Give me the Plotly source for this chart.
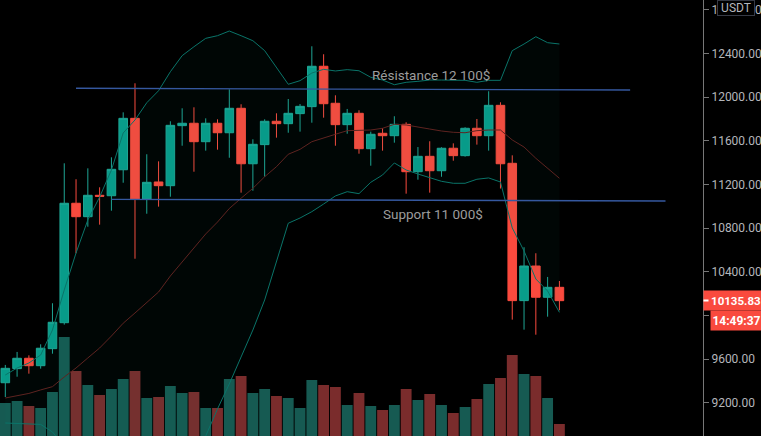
import plotly.graph_objects as go

# candles, oldest first (BTC/USDT, prices)
opens = [9384, 9513, 9608, 9540, 9696, 9934, 11028, 10905, 11101, 11097, 11335, 11806,
         11067, 11223, 11189, 11739, 11761, 11592, 11761, 11674, 11898, 11390, 11565, 11779,
         11757, 11849, 11913, 12283, 11944, 11748, 11852, 11528, 11669, 11647, 11751, 11317,
         11458, 11326, 11532, 11464, 11715, 11647, 11925, 11394, 10136, 10453, 10167, 10258]
highs = [9547, 9666, 9635, 9736, 10112, 11394, 11248, 11348, 11174, 11449, 11861, 12127,
         11477, 11412, 11779, 11898, 11907, 11806, 11797, 12072, 11935, 11614, 11797, 11852,
         11983, 11937, 12466, 12393, 12017, 11892, 11880, 11684, 11715, 11825, 11770, 11543,
         11596, 11541, 11577, 11724, 11800, 12054, 11953, 11467, 10625, 10570, 10353, 10316]
lows = [9253, 9439, 9467, 9513, 9650, 9916, 10570, 10813, 10832, 10960, 11216, 10520,
        10932, 10997, 11088, 11555, 11317, 11510, 11519, 11445, 11125, 11143, 11271, 11629,
        11674, 11684, 11766, 11812, 11555, 11665, 11482, 11372, 11510, 11583, 11116, 11244,
        11125, 11271, 11418, 11455, 11565, 11510, 11163, 9962, 9870, 9824, 9989, 10048]
closes = [9516, 9608, 9540, 9700, 9938, 11028, 10905, 11101, 11092, 11339, 11806, 11067,
          11220, 11189, 11742, 11761, 11592, 11761, 11674, 11898, 11390, 11568, 11779, 11757,
          11852, 11916, 12283, 11940, 11748, 11852, 11528, 11660, 11647, 11751, 11317, 11458,
          11326, 11532, 11464, 11715, 11647, 11925, 11390, 10136, 10453, 10167, 10258, 10135.83]

# bollinger bands
bb_upper = [9455, 9519, 9565, 9638, 9867, 10234, 10573, 10875, 11085, 11333, 11672, 11791,
            11949, 12059, 12233, 12380, 12462, 12539, 12563, 12606, 12563, 12517, 12426, 12276,
            12118, 12151, 12221, 12255, 12240, 12252, 12242, 12182, 12157, 12114, 12136, 12145,
            12157, 12157, 12154, 12154, 12136, 12154, 12154, 12426, 12487, 12554, 12499, 12487]
bb_basis = [9244, 9263, 9286, 9318, 9348, 9437, 9519, 9611, 9702, 9812, 9929, 10023,
            10115, 10215, 10362, 10490, 10618, 10747, 10856, 10980, 11074, 11165, 11271, 11363,
            11477, 11522, 11592, 11629, 11660, 11693, 11693, 11699, 11715, 11751, 11745, 11724,
            11708, 11690, 11678, 11674, 11693, 11699, 11699, 11608, 11543, 11440, 11348, 11257]
bb_lower = [9015, 9011, 9006, 9002, 8933, 8800, 8700, 8620, 8560, 8520, 8500, 8490,
            8500, 8530, 8590, 8660, 8760, 8896, 9144, 9373, 9620, 9867, 10142, 10490,
            10845, 10893, 10951, 11021, 11095, 11134, 11116, 11220, 11287, 11397, 11333, 11296,
            11266, 11229, 11211, 11211, 11248, 11260, 11223, 10802, 10591, 10334, 10224, 10029]

# volume has no scale on the picture, only relative heights
volumes = [3300, 3500, 3000, 2800, 4400, 9900, 6500, 5100, 4100, 4700, 5700, 6500,
           3800, 3900, 5000, 4300, 4400, 2800, 2800, 5700, 6000, 4300, 4700, 4000,
           3800, 2800, 5600, 5100, 4900, 3100, 4300, 3000, 2600, 3100, 4700, 3600,
           4200, 3100, 2300, 2900, 3700, 5200, 5800, 8100, 6200, 6000, 3800, 1200]

# hand drawn levels: index and price of both ends
resistance_x = [6, 53]
resistance_y = [12081, 12066]
support_x = [9, 56]
support_y = [11064, 11049]

price_ticks = [9200, 9600, 10000, 10400, 10800, 11200, 11600, 12000, 12400, 12800]
time_left = "14:49:37"
time_label_price = 9954

GREEN = "#089c8a"
RED = "#f94a3e"
VOL_GREEN = "#165a52"
VOL_RED = "#7a2c2c"
BAND = "#0a7469"
BASIS = "#5e2320"
LEVEL = "#35589f"
TEXT = "#b4b6bb"
FONT = "Roboto, Arial, sans-serif"

idx = list(range(len(closes)))
vol_colors = [VOL_GREEN if c >= o else VOL_RED for o, c in zip(opens, closes)]

fig = go.Figure()

fig.add_trace(go.Bar(x=idx, y=volumes, marker=dict(color=vol_colors, line_width=0), width=0.92,
                     yaxis="y", showlegend=False))

fig.add_trace(go.Scatter(x=idx, y=bb_upper, mode="lines", line=dict(color=BAND, width=1),
                         yaxis="y2", showlegend=False))
fig.add_trace(go.Scatter(x=idx, y=bb_lower, mode="lines", line=dict(color=BAND, width=1),
                         fill="tonexty", fillcolor="rgba(0,150,136,0.04)",
                         yaxis="y2", showlegend=False))
fig.add_trace(go.Scatter(x=idx, y=bb_basis, mode="lines", line=dict(color=BASIS, width=1),
                         yaxis="y2", showlegend=False))

fig.add_trace(go.Candlestick(
    x=idx, open=opens, high=highs, low=lows, close=closes, yaxis="y2", showlegend=False,
    whiskerwidth=0,
    increasing=dict(line=dict(color="#1fa594", width=1), fillcolor=GREEN),
    decreasing=dict(line=dict(color=RED, width=1), fillcolor=RED),
))

for xs, ys in [(resistance_x, resistance_y), (support_x, support_y)]:
    fig.add_trace(go.Scatter(x=xs, y=ys, mode="lines", line=dict(color=LEVEL, width=1.4),
                             yaxis="y2", showlegend=False))

notes = [
    dict(x=36.1, y=12205, text="Résistance 12 100$"),
    dict(x=36.3, y=10930, text="Support 11 000$"),
]
annotations = [dict(xref="x", yref="y2", showarrow=False, font=dict(family=FONT, size=13.5, color="#9c9c9c"), **n)
               for n in notes]

# price and countdown labels sitting on the axis
annotations += [
    dict(xref="paper", yref="y2", x=1, y=closes[-1], xanchor="left", showarrow=False,
         text="<b>10135.83</b>", align="right", width=56, height=17, borderpad=1,
         bgcolor=RED, font=dict(family=FONT, size=11.5, color="white")),
    dict(xref="paper", yref="y2", x=1, y=closes[-1], xanchor="left", showarrow=False,
         text=" ", width=4, height=1, borderpad=0, bgcolor="white", font=dict(size=1)),
    dict(xref="paper", yref="y2", x=1, xshift=7, y=time_label_price, xanchor="left", showarrow=False,
         text="<b>" + time_left + "</b>", width=49, height=17, borderpad=1,
         bgcolor=RED, font=dict(family=FONT, size=12, color="white")),
    dict(xref="paper", yref="paper", x=1, xshift=14, y=1, xanchor="left", yanchor="top", showarrow=False,
         text="USDT", width=36, height=14, borderpad=0, bgcolor="black", bordercolor="#363a45",
         borderwidth=1, font=dict(family=FONT, size=12, color=TEXT)),
]

fig.update_layout(
    width=761, height=436,
    margin=dict(l=0, r=58, t=0, b=0),
    paper_bgcolor="black",
    plot_bgcolor="black",
    boxgap=0.27,
    boxgroupgap=0,
    bargap=0.08,
    showlegend=False,
    annotations=annotations,
    xaxis=dict(visible=False, range=[-0.45, 59.18], rangeslider=dict(visible=False)),
    yaxis=dict(visible=False, range=[0, 43600], fixedrange=True),
    yaxis2=dict(
        overlaying="y", side="right", range=[8896, 12890],
        tickvals=price_ticks, ticktext=["%.2f" % p for p in price_ticks],
        ticks="outside", ticklen=5, tickcolor="#777777", tickwidth=1,
        showgrid=False, zeroline=False, showline=True, linecolor="#777777", linewidth=1,
        tickfont=dict(family=FONT, size=12, color=TEXT),
    ),
)

# the page keeps the browser's default 8px body margin otherwise
fig.write_html("out.html", config=dict(displayModeBar=False),
               post_script="document.body.style.margin='0';document.body.style.background='black';")
